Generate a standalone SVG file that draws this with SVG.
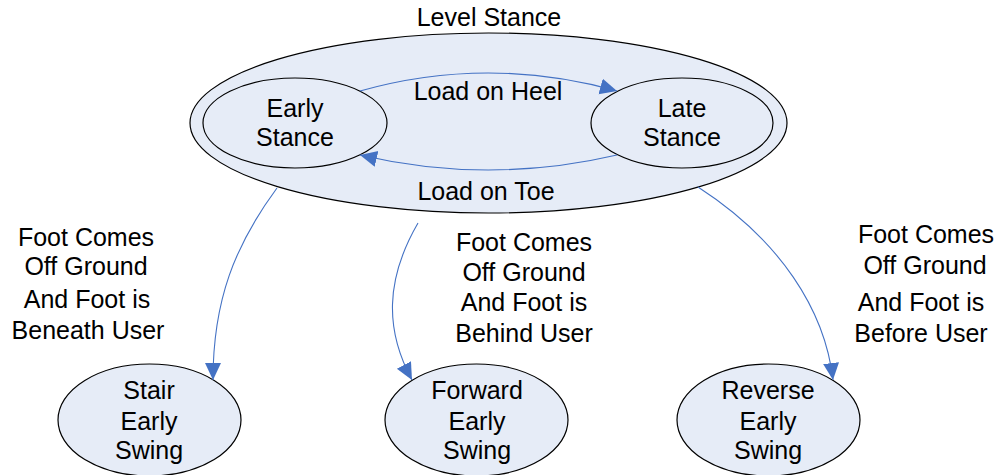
<svg xmlns="http://www.w3.org/2000/svg" width="998" height="475" viewBox="0 0 998 475">
<style>
.node{fill:#E6ECF7;stroke:#000;stroke-width:1.2}
.t{font-family:"Liberation Sans",Arial,sans-serif;font-size:25px;fill:#000;text-anchor:middle}
.c{fill:none;stroke:#4472C4;stroke-width:1.1}
</style>
<defs>
<marker id="ah" markerUnits="userSpaceOnUse" markerWidth="18" markerHeight="18" refX="17" refY="8" orient="auto">
<path d="M0,0 L17,8 L0,16 z" fill="#4472C4"/>
</marker>
</defs>
<rect width="998" height="475" fill="#fff"/>
<g id="level-stance">
<ellipse class="node" cx="488.5" cy="123" rx="298.5" ry="90"/>
<text class="t" x="489" y="26">Level Stance</text>
</g>
<g id="early-stance">
<ellipse class="node" cx="295" cy="123" rx="92" ry="45"/>
<text class="t" x="295" y="117">Early</text>
<text class="t" x="295" y="146">Stance</text>
</g>
<g id="late-stance">
<ellipse class="node" cx="682" cy="123" rx="91" ry="45"/>
<text class="t" x="682" y="117">Late</text>
<text class="t" x="682" y="146">Stance</text>
</g>
<g id="stair-early-swing">
<ellipse class="node" cx="149.5" cy="420" rx="91.5" ry="56"/>
<text class="t" x="149" y="399">Stair</text>
<text class="t" x="149" y="430">Early</text>
<text class="t" x="149" y="459">Swing</text>
</g>
<g id="forward-early-swing">
<ellipse class="node" cx="476.5" cy="420" rx="91.5" ry="56"/>
<text class="t" x="477" y="399">Forward</text>
<text class="t" x="477" y="430">Early</text>
<text class="t" x="477" y="459">Swing</text>
</g>
<g id="reverse-early-swing">
<ellipse class="node" cx="768.5" cy="420" rx="91.5" ry="56"/>
<text class="t" x="768" y="399">Reverse</text>
<text class="t" x="768" y="430">Early</text>
<text class="t" x="768" y="459">Swing</text>
</g>
<g id="connectors">
<path class="c" d="M360,91 Q488,55 617,91" marker-end="url(#ah)"/>
<path class="c" d="M617,155 Q488,185 360,155" marker-end="url(#ah)"/>
<path class="c" d="M277,188 C235,245 213,300 213,380" marker-end="url(#ah)"/>
<path class="c" d="M418,223 C385,280 385,330 412,380" marker-end="url(#ah)"/>
<path class="c" d="M698,187 C780,240 825,310 833,380" marker-end="url(#ah)"/>
</g>
<g id="labels">
<text class="t" x="488" y="100">Load on Heel</text>
<text class="t" x="486" y="200">Load on Toe</text>
<text class="t" x="86" y="246">Foot Comes</text>
<text class="t" x="86" y="275">Off Ground</text>
<text class="t" x="87" y="308">And Foot is</text>
<text class="t" x="88" y="339">Beneath User</text>
<text class="t" x="524" y="251">Foot Comes</text>
<text class="t" x="524" y="281">Off Ground</text>
<text class="t" x="524" y="311">And Foot is</text>
<text class="t" x="524" y="342">Behind User</text>
<text class="t" x="926" y="243">Foot Comes</text>
<text class="t" x="925" y="274">Off Ground</text>
<text class="t" x="921" y="311">And Foot is</text>
<text class="t" x="921" y="342">Before User</text>
</g>
</svg>
